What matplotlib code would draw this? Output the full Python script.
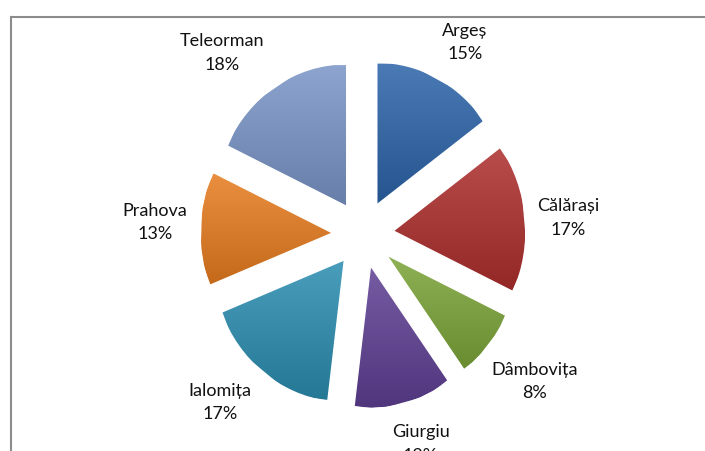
import numpy as np
import matplotlib
matplotlib.use("Agg")
import matplotlib.pyplot as plt
from matplotlib.lines import Line2D
from matplotlib.colors import to_rgb

# Данные
judete = ["Argeș", "Călărași", "Dâmbovița", "Giurgiu", "Ialomița", "Prahova", "Teleorman"]
procente = [15, 17, 8, 12, 17, 13, 18]
culori = ["#2b63a8", "#ad2e2d", "#7aa437", "#5e3f93", "#2a8db0", "#e67c1e", "#7894c6"]

# Расположение подписей (расстояние от центра и сдвиг угла в градусах)
dist_etichete = [1.56, 1.56, 1.66, 1.535, 1.60, 1.58, 1.67]
shift_etichete = [-2.6, -1.0, 1.2, 2.1, -4.7, -1.5, 7.5]

plt.rcParams['font.family'] = ['Lato', 'DejaVu Sans']

W, H = 705, 452
cx, cy = 363, 235      # центр круга в пикселях
rx, ry = 132, 142      # радиус по x и y в пикселях

fig = plt.figure(figsize=(W / 100, H / 100), dpi=100)
ax = fig.add_axes([0, 0, 1, 1])

etichete = [f"{j}\n{p}%" for j, p in zip(judete, procente)]
wedges, texts = ax.pie(procente, colors=culori, startangle=90, counterclock=False,
                       explode=[0.23] * len(procente), labels=etichete,
                       wedgeprops=dict(edgecolor="white", linewidth=1.0),
                       textprops=dict(ha="center", va="center", fontsize=13,
                                      color="#111111", linespacing=1.55))

# Ставим подписи как в оригинале
for w, t, d, s in zip(wedges, texts, dist_etichete, shift_etichete):
    a = np.deg2rad((w.theta1 + w.theta2) / 2 + s)
    t.set_position((d * np.cos(a), d * np.sin(a)))

ax.set_aspect("auto")
ax.axis("off")

# Градиент внутри каждого сектора
grad = np.linspace(1, 0, 256).reshape(-1, 1)
for w, c in zip(wedges, culori):
    base = np.array(to_rgb(c))
    light = base + (1 - base) * 0.15
    dark = base * 0.85
    img = light[None, None, :] * grad[:, :, None] + dark[None, None, :] * (1 - grad[:, :, None])
    img = np.repeat(img, 2, axis=1)
    bb = w.get_path().get_extents(w.get_transform())
    x0, y0 = ax.transData.inverted().transform((bb.x0, bb.y0))
    x1, y1 = ax.transData.inverted().transform((bb.x1, bb.y1))
    im = ax.imshow(img, extent=(x0, x1, y0, y1), aspect="auto", zorder=w.get_zorder() + 0.1)
    im.set_clip_path(w)
    ax.add_patch(plt.Polygon(w.get_path().vertices, closed=True, fill=False,
                             edgecolor="white", linewidth=1.0,
                             transform=w.get_transform(), zorder=w.get_zorder() + 0.2))

ax.set_xlim(-cx / rx, (W - cx) / rx)
ax.set_ylim(-(H - cy) / ry, cy / ry)

# Рамка диаграммы (верх и левая сторона)
top = 1 - 18 / H
left = 11 / W
fig.add_artist(Line2D([left, 1], [top, top], transform=fig.transFigure, color="#8c8c8c", linewidth=1.5))
fig.add_artist(Line2D([left, left], [0, top], transform=fig.transFigure, color="#8c8c8c", linewidth=1.5))

fig.savefig("out.png", dpi=100)
